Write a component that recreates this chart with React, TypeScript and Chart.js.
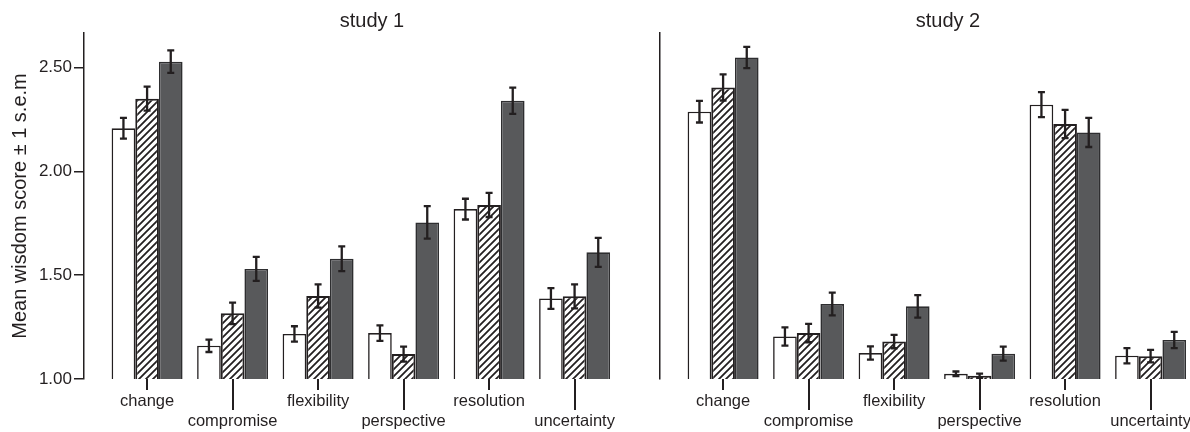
import React, { useEffect, useRef } from 'react';
import { Chart, registerables } from 'chart.js';

Chart.register(...registerables);

// ---------------- data ----------------
const categories = ['change', 'compromise', 'flexibility', 'perspective', 'resolution', 'uncertainty'];
const studyTitles = ['study 1', 'study 2'];
const yAxisTitle = 'Mean wisdom score ± 1 s.e.m';
const yTickValues = [1.0, 1.5, 2.0, 2.5];
const yRange = [1.0, 2.666];

// study 1
const white1 = [2.207, 1.16, 1.217, 1.221, 1.818, 1.388];
const white1Err = [0.05, 0.03, 0.037, 0.037, 0.05, 0.05];
const hatch1 = [2.35, 1.316, 1.4, 1.12, 1.838, 1.398];
const hatch1Err = [0.058, 0.052, 0.056, 0.036, 0.058, 0.058];
const dark1 = [2.528, 1.53, 1.579, 1.754, 2.34, 1.61];
const dark1Err = [0.054, 0.058, 0.06, 0.078, 0.063, 0.07];

// study 2
const white2 = [2.287, 1.205, 1.125, 1.025, 2.321, 1.112];
const white2Err = [0.052, 0.044, 0.032, 0.011, 0.06, 0.037];
const hatch2 = [2.404, 1.221, 1.18, 1.016, 2.228, 1.11];
const hatch2Err = [0.063, 0.044, 0.032, 0.01, 0.068, 0.03];
const dark2 = [2.548, 1.361, 1.35, 1.122, 2.187, 1.188];
const dark2Err = [0.051, 0.055, 0.054, 0.034, 0.07, 0.039];

// ---------------- styling ----------------
const INK = '#231f20';
const DARK = '#58595b';
const FONT = "'Liberation Sans', Arial, Helvetica, sans-serif";
const X_RANGE = [-0.738, 5.999];

Chart.defaults.font.family = FONT;
Chart.defaults.color = INK;

function makeHatch() {
  const s = 7;
  const c = document.createElement('canvas');
  c.width = s;
  c.height = s;
  const g = c.getContext('2d');
  g.fillStyle = '#ffffff';
  g.fillRect(0, 0, s, s);
  g.strokeStyle = INK;
  g.lineWidth = 1.8;
  g.beginPath();
  for (const k of [-s, 0, s]) {
    g.moveTo(k - 1, s + 1);
    g.lineTo(k + s + 1, -1);
  }
  g.stroke();
  return g.createPattern(c, 'repeat');
}

const errorBarPlugin = {
  id: 'errorBars',
  afterDatasetsDraw(chart, _args, opts) {
    const { ctx } = chart;
    const yScale = chart.scales.y;
    ctx.save();
    ctx.strokeStyle = INK;
    ctx.lineWidth = 2.3;
    chart.data.datasets.forEach((ds, di) => {
      const meta = chart.getDatasetMeta(di);
      const errs = opts.errors[di];
      meta.data.forEach((bar, i) => {
        const v = ds.data[i].y;
        const e = errs[i];
        const x = bar.x;
        const yt = yScale.getPixelForValue(v + e);
        const yb = yScale.getPixelForValue(v - e);
        const cap = 3.5;
        ctx.beginPath();
        ctx.moveTo(x, yt);
        ctx.lineTo(x, yb);
        ctx.moveTo(x - cap, yt);
        ctx.lineTo(x + cap, yt);
        ctx.moveTo(x - cap, yb);
        ctx.lineTo(x + cap, yb);
        ctx.stroke();
      });
    });
    ctx.restore();
  },
};

const categoryTickPlugin = {
  id: 'catTicks',
  afterDraw(chart) {
    const { ctx, chartArea } = chart;
    const xScale = chart.scales.x;
    ctx.save();
    ctx.strokeStyle = INK;
    ctx.lineWidth = 2;
    categories.forEach((_, i) => {
      const px = Math.round(xScale.getPixelForValue(i));
      const len = i % 2 === 0 ? 11 : 31;
      ctx.beginPath();
      ctx.moveTo(px, chartArea.bottom);
      ctx.lineTo(px, chartArea.bottom + len);
      ctx.stroke();
    });
    ctx.restore();
  },
};

function toPoints(values) {
  return values.map((y, i) => ({ x: i, y }));
}

function makeConfig(study, hatch) {
  const first = study === 0;
  const series = first ? [white1, hatch1, dark1] : [white2, hatch2, dark2];
  const errors = first ? [white1Err, hatch1Err, dark1Err] : [white2Err, hatch2Err, dark2Err];
  const fills = ['#ffffff', hatch, DARK];
  const borders = [INK, INK, '#2e2e30'];
  const bw = [1.6, 2, 1.6];
  return {
    type: 'bar',
    data: {
      datasets: series.map((vals, k) => ({
        label: String(k),
        data: toPoints(vals),
        backgroundColor: fills[k],
        borderColor: borders[k],
        borderWidth: bw[k],
        borderSkipped: false,
        categoryPercentage: 0.83,
        barPercentage: 1.0,
      })),
    },
    options: {
      responsive: false,
      maintainAspectRatio: false,
      animation: false,
      devicePixelRatio: 1,
      layout: { padding: 0 },
      plugins: {
        legend: { display: false },
        tooltip: { enabled: false },
        title: {
          display: true,
          text: studyTitles[study],
          fullSize: false,
          color: INK,
          font: { size: 20, weight: 'normal', family: FONT },
          padding: { top: 9, bottom: 0 },
        },
        errorBars: { errors },
      },
      scales: {
        x: {
          type: 'linear',
          min: X_RANGE[0],
          max: X_RANGE[1],
          offset: false,
          afterBuildTicks: (s) => {
            s.ticks = categories.map((_, i) => ({ value: i }));
          },
          afterFit: (s) => {
            s.height = 53;
          },
          grid: { display: false, drawTicks: false },
          border: { display: false },
          ticks: {
            autoSkip: false,
            maxRotation: 0,
            minRotation: 0,
            padding: 13,
            color: INK,
            font: { size: 16.5, family: FONT },
            callback: (v) => {
              const i = Math.round(Number(v));
              const l = categories[i];
              return i % 2 ? ['', l] : l;
            },
          },
        },
        y: {
          min: yRange[0],
          max: yRange[1],
          afterBuildTicks: (s) => {
            s.ticks = yTickValues.map((v) => ({ value: v }));
          },
          afterFit: (s) => {
            s.width = first ? 84 : 10;
          },
          ticks: {
            display: first,
            padding: 2,
            color: INK,
            font: { size: 17, family: FONT },
            callback: (v) => Number(v).toFixed(2),
          },
          grid: {
            display: first,
            drawOnChartArea: false,
            drawTicks: true,
            tickLength: 10,
            color: INK,
            lineWidth: 1.5,
          },
          border: { display: true, color: INK, width: 1.5 },
          title: {
            display: first,
            text: yAxisTitle,
            color: INK,
            font: { size: 20, family: FONT },
            padding: { top: 8, bottom: 0 },
          },
        },
      },
    },
    plugins: [errorBarPlugin, categoryTickPlugin],
  };
}

export default function App() {
  const ref1 = useRef(null);
  const ref2 = useRef(null);

  useEffect(() => {
    const hatch = makeHatch();
    const c1 = new Chart(ref1.current, makeConfig(0, hatch));
    const c2 = new Chart(ref2.current, makeConfig(1, hatch));
    return () => {
      c1.destroy();
      c2.destroy();
    };
  }, []);

  return (
    <div
      style={{
        position: 'fixed',
        left: 0,
        top: 0,
        width: 1190,
        height: 432,
        overflow: 'hidden',
        background: '#ffffff',
      }}
    >
      <canvas
        ref={ref1}
        width={660}
        height={432}
        style={{ position: 'absolute', left: 0, top: 0, width: 660, height: 432 }}
      />
      <canvas
        ref={ref2}
        width={586}
        height={432}
        style={{ position: 'absolute', left: 650, top: 0, width: 586, height: 432 }}
      />
    </div>
  );
}
